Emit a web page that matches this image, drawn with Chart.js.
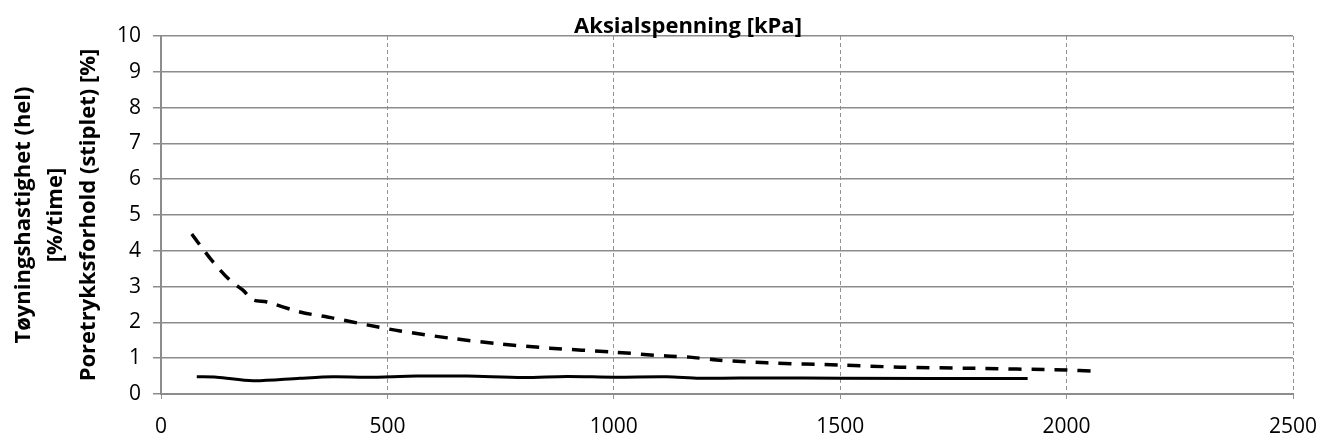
<!DOCTYPE html>
<html>
<head>
<meta charset="utf-8">
<script src="https://cdn.jsdelivr.net/npm/chart.js"></script>
<style>
  html, body { margin: 0; padding: 0; background: #fff; }
  #wrap { width: 1322px; height: 441px; }
</style>
</head>
<body>
<div id="wrap"><canvas id="chart" width="1322" height="441"></canvas></div>
<script>
// Poretrykksforhold (stiplet) - dashed line
const poreX = [68, 86, 115, 152, 181, 203, 234, 307, 380, 455, 528, 638, 749, 859, 1000, 1117, 1168, 1227, 1338, 1501, 1632, 1779, 2000, 2056];
const poreY = [4.47, 4.16, 3.69, 3.18, 2.9, 2.63, 2.57, 2.29, 2.12, 1.93, 1.76, 1.56, 1.40, 1.28, 1.17, 1.06, 1.03, 0.95, 0.87, 0.81, 0.75, 0.72, 0.67, 0.64];

// Tøyningshastighet (hel) - solid line
const strainX = [79, 123, 203, 307, 380, 455, 565, 675, 800, 896, 1000, 1117, 1190, 1338, 1501, 1914];
const strainY = [0.48, 0.47, 0.37, 0.44, 0.48, 0.47, 0.50, 0.50, 0.46, 0.49, 0.47, 0.48, 0.44, 0.45, 0.44, 0.43];

const xTitle = 'Aksialspenning [kPa]';
const yTitle = ['Tøyningshastighet (hel)', '[%/time]', 'Poretrykksforhold (stiplet) [%]'];

const FONT = "'Open Sans'";

const toPoints = (xs, ys) => xs.map((x, i) => ({ x: x, y: ys[i] }));

// draws the x axis title above the plot, like the original
const topTitle = {
    id: 'topTitle',
    afterDraw(chart) {
        const ctx = chart.ctx;
        ctx.save();
        ctx.font = 'bold 22px ' + FONT;
        ctx.fillStyle = '#000';
        ctx.textAlign = 'center';
        ctx.textBaseline = 'alphabetic';
        ctx.fillText(xTitle, 688, 33);
        ctx.restore();
    }
};

new Chart(document.getElementById('chart'), {
    type: 'line',
    data: {
        datasets: [{
            label: 'Poretrykksforhold',
            data: toPoints(poreX, poreY),
            borderColor: '#000',
            borderWidth: 3.5,
            borderDash: [13, 10],
            pointRadius: 0,
            tension: 0.3,
            fill: false
        }, {
            label: 'Tøyningshastighet',
            data: toPoints(strainX, strainY),
            borderColor: '#000',
            borderWidth: 3,
            pointRadius: 0,
            tension: 0.3,
            fill: false
        }]
    },
    options: {
        responsive: false,
        animation: false,
        devicePixelRatio: 1,
        layout: { padding: { top: 36, right: 29, left: 0, bottom: 0 } },
        plugins: {
            legend: { display: false },
            tooltip: { enabled: false }
        },
        scales: {
            x: {
                type: 'linear',
                min: 0,
                max: 2500,
                afterFit(scale) {
                    scale.height = 47;
                    scale.paddingLeft = 0;
                    scale.paddingRight = 0;
                },
                ticks: {
                    stepSize: 500,
                    color: '#000',
                    padding: 12,
                    format: { useGrouping: false },
                    font: { family: FONT, size: 21 }
                },
                grid: {
                    color: '#939393',
                    lineWidth: 1,
                    tickBorderDash: [4, 3],
                    tickLength: 8
                },
                border: { color: '#8c8c8c', width: 2, dash: [4, 3] }
            },
            y: {
                min: 0,
                max: 10,
                afterFit(scale) { scale.width = 161; },
                ticks: {
                    stepSize: 1,
                    color: '#000',
                    padding: 12,
                    font: { family: FONT, size: 21 }
                },
                grid: {
                    color: '#8c8c8c',
                    lineWidth: 1.5,
                    tickLength: 8
                },
                border: { color: '#8c8c8c', width: 2 },
                title: {
                    display: true,
                    text: yTitle,
                    color: '#000',
                    padding: { top: 7, bottom: 0 },
                    font: { family: FONT, size: 22, weight: 'bold', lineHeight: 1.48 }
                }
            }
        }
    },
    plugins: [topTitle]
});
</script>
</body>
</html>
